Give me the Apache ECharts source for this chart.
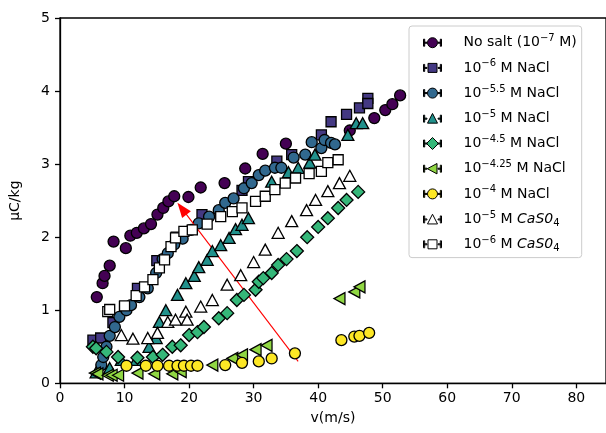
<!DOCTYPE html>
<html><head><meta charset="utf-8">
<script src="https://cdn.jsdelivr.net/npm/echarts@6/dist/echarts.min.js"></script>
<style>html,body{margin:0;padding:0;background:#fff}#c{width:606px;height:433px}</style>
</head><body><div id="c"></div>
<script>
// ---- data (v in m/s, charge in µC/kg) ----
const noSalt = [[5.7,1.18],[6.6,1.37],[6.9,1.47],[7.7,1.61],[8.3,1.94],[10.2,1.85],[10.9,2.02],[11.9,2.06],[13.0,2.12],[14.1,2.18],[15.1,2.31],[16.0,2.40],[16.8,2.49],[17.7,2.56],[19.9,2.55],[21.8,2.68],[25.5,2.74],[28.7,2.94],[31.4,3.14],[35.0,3.28],[44.9,3.46],[48.7,3.63],[50.4,3.74],[51.5,3.82],[52.7,3.94]];
const nacl6 = [[5.1,0.59],[6.3,0.62],[8.2,0.83],[10.0,1.05],[12.0,1.30],[15.0,1.68],[18.0,2.00],[22.0,2.31],[28.2,2.64],[29.2,2.76],[33.6,3.04],[35.9,3.13],[40.5,3.40],[42.0,3.58],[44.4,3.68],[46.4,3.77],[47.7,3.90],[47.7,3.83]];
const nacl55 = [[6.4,0.25],[6.7,0.36],[7.2,0.50],[7.7,0.65],[8.5,0.77],[9.2,0.91],[10.3,1.00],[11.0,1.07],[12.3,1.18],[13.6,1.30],[14.9,1.51],[15.9,1.70],[16.7,1.78],[17.7,1.90],[19.0,1.98],[20.3,2.10],[21.5,2.19],[23.1,2.28],[24.6,2.37],[25.6,2.47],[26.9,2.53],[28.5,2.67],[29.7,2.74],[30.8,2.85],[31.8,2.91],[33.3,2.95],[34.3,2.95],[36.2,3.09],[38.0,3.13],[39.0,3.30],[40.5,3.22],[41.0,3.33],[42.0,3.29],[42.6,3.27]];
const nacl5 = [[5.6,0.15],[7.7,0.21],[9.5,0.32],[11.8,0.32],[13.8,0.50],[14.9,0.62],[15.4,0.84],[16.4,1.00],[18.2,1.21],[19.5,1.37],[20.8,1.47],[21.5,1.59],[22.8,1.69],[23.6,1.81],[24.9,1.89],[26.2,1.99],[27.2,2.11],[28.2,2.17],[29.2,2.26],[32.8,2.76],[35.4,2.89],[36.9,2.95],[38.7,3.02],[39.5,3.13],[44.6,3.40],[45.9,3.56],[46.9,3.56]];
const nacl45 = [[5.1,0.50],[5.6,0.48],[7.2,0.43],[9.0,0.36],[12.0,0.35],[14.4,0.36],[15.9,0.39],[17.4,0.50],[18.7,0.52],[20.0,0.66],[21.3,0.70],[22.3,0.77],[24.6,0.89],[25.9,0.96],[27.4,1.14],[28.5,1.21],[30.3,1.28],[30.8,1.39],[31.5,1.44],[32.8,1.51],[33.8,1.62],[35.1,1.70],[36.7,1.81],[38.3,2.00],[40.0,2.14],[41.5,2.26],[43.1,2.40],[44.4,2.51],[46.2,2.62]];
const nacl425 = [[5.4,0.14],[5.8,0.13],[7.4,0.11],[8.0,0.11],[9.0,0.11],[12.0,0.14],[14.6,0.13],[17.4,0.13],[18.7,0.16],[23.6,0.25],[26.7,0.34],[28.2,0.39],[30.3,0.46],[32.0,0.52],[43.3,1.16],[45.6,1.25],[46.4,1.32]];
const nacl4 = [[10.3,0.24],[13.3,0.24],[15.1,0.24],[16.9,0.24],[18.2,0.24],[19.2,0.24],[20.3,0.24],[21.3,0.24],[25.6,0.25],[28.2,0.28],[30.8,0.30],[32.8,0.34],[36.4,0.41],[43.6,0.59],[45.6,0.64],[46.4,0.65],[47.9,0.69]];
const caso5 = [[9.5,0.66],[11.3,0.61],[13.6,0.62],[15.1,0.69],[16.7,0.84],[17.9,0.87],[19.5,0.98],[19.7,0.87],[21.8,1.05],[23.6,1.14],[25.9,1.35],[28.0,1.48],[30.0,1.66],[31.8,1.83],[33.8,2.06],[35.9,2.22],[38.2,2.37],[39.6,2.51],[41.5,2.63],[43.3,2.74],[44.9,2.84]];
const caso6 = [[7.4,0.98],[7.7,1.01],[10.0,1.06],[11.8,1.20],[13.1,1.32],[14.4,1.42],[15.4,1.58],[16.2,1.69],[17.2,1.87],[17.9,1.99],[19.2,2.08],[20.5,2.10],[22.8,2.18],[24.9,2.28],[26.7,2.35],[28.2,2.40],[30.3,2.49],[31.8,2.56],[33.3,2.65],[34.9,2.74],[36.5,2.81],[38.6,2.87],[40.5,2.90],[41.5,3.02],[43.1,3.06]];
const arrowFrom = [36.9, 0.30];
const arrowTo = [18.9, 2.39];
const xTicks = [0,10,20,30,40,50,60,70,80];
const yTicks = [0,1,2,3,4,5];
const seriesNames = ['No salt (10−7 M)','10−6 M NaCl','10−5.5 M NaCl','10−5 M NaCl','10−4.5 M NaCl','10−4.25 M NaCl','10−4 M NaCl','10−5 M CaS04','10−6 M CaS04'];
const legendRich = {
 'No salt (10−7 M)':'No salt (10{sup|−7} M)',
 '10−6 M NaCl':'10{sup|−6} M NaCl',
 '10−5.5 M NaCl':'10{sup|−5.5} M NaCl',
 '10−5 M NaCl':'10{sup|−5} M NaCl',
 '10−4.5 M NaCl':'10{sup|−4.5} M NaCl',
 '10−4.25 M NaCl':'10{sup|−4.25} M NaCl',
 '10−4 M NaCl':'10{sup|−4} M NaCl',
 '10−5 M CaS04':'10{sup|−5} M {it|CaS0}{sub|4}',
 '10−6 M CaS04':'10{sup|−6} M {it|CaS0}{sub|4}'
};

// ---- styles ----
const colors = ['#440154','#443983','#31688e','#21918c','#35b779','#90d743','#fde725','#ffffff','#ffffff'];
const shapes = ['circle','square','circle','tri','diamond','left','circle','tri','square'];
const symbolMap = {
  circle:'circle',
  square:'rect',
  tri:'path://M0,-1L0.866,0.5L-0.866,0.5Z',
  diamond:'path://M0,-1L1,0L0,1L-1,0Z',
  left:'path://M-1,0L0.5,-0.866L0.5,0.866Z'
};
const sizeMap = {circle:11, square:10, tri:[12,11], diamond:[13,13], left:[11,12]};
function markerPath(shape){
  const caps = 'M0,2.5L1.2,2.5L1.2,9.5L0,9.5Z M16.8,2.5L18,2.5L18,9.5L16.8,9.5Z M0,5.5L3.5,5.5L3.5,6.5L0,6.5Z M14.5,5.5L18,5.5L18,6.5L14.5,6.5Z ';
  let m;
  if(shape==='circle') m='M9,1A5,5 0 1 1 8.99,1Z';
  else if(shape==='square') m='M4.5,1.5L13.5,1.5L13.5,10.5L4.5,10.5Z';
  else if(shape==='tri') m='M9,0.8L14,10.5L4,10.5Z';
  else if(shape==='diamond') m='M9,0L15,6L9,12L3,6Z';
  else m='M3.8,6L13.5,0.8L13.5,11.2Z';
  return 'path://'+caps+m;
}
const datasets=[noSalt,nacl6,nacl55,nacl5,nacl45,nacl425,nacl4,caso5,caso6];
const series = datasets.map((d,i)=>({
  name: seriesNames[i], type:'scatter', data:d,
  symbol: symbolMap[shapes[i]], symbolSize: sizeMap[shapes[i]],
  itemStyle:{color:colors[i], borderColor:'#000', borderWidth:1.3, opacity:1},
  emphasis:{disabled:true}, z:2+i
}));
series.push({
  type:'line', data:[], z:20, silent:true,
  markLine:{silent:true, animation:false, label:{show:false},
    symbol:['none','triangle'], symbolSize:[11,15],
    lineStyle:{color:'#ff0000', width:1.1, type:'solid'},
    data:[[{coord:arrowFrom, symbol:'none'},{coord:arrowTo, symbol:'triangle', symbolSize:[11,15]}]]
  }
});

const chart = echarts.init(document.getElementById('c'), null, {renderer:'canvas'});
const font='DejaVu Sans';
chart.setOption({
  animation:false,
  backgroundColor:'#fff',
  grid:{left:60, top:18, right:-4, bottom:49.7, show:true, borderColor:'#000', borderWidth:1.3, backgroundColor:'transparent'},
  xAxis:{type:'value', min:0, max:84.6, interval:10, name:'v(m/s)', nameLocation:'middle', nameGap:28,
    nameTextStyle:{fontFamily:font, fontSize:14, color:'#000'},
    axisLine:{show:true, lineStyle:{color:'#000', width:1.3}}, axisTick:{show:true, length:5, lineStyle:{color:'#000', width:1.3}},
    axisLabel:{fontFamily:font, fontSize:14, color:'#000', margin:8, showMaxLabel:false,
      formatter:v=> xTicks.includes(v)? String(v):''},
    splitLine:{show:false}},
  yAxis:{type:'value', min:0, max:5, interval:1, name:'μC/kg', nameLocation:'middle', nameGap:38,
    nameTextStyle:{fontFamily:font, fontSize:14, color:'#000'},
    axisLine:{show:true, lineStyle:{color:'#000', width:1.3}}, axisTick:{show:true, length:5, lineStyle:{color:'#000', width:1.3}},
    axisLabel:{fontFamily:font, fontSize:14, color:'#000', margin:10, formatter:v=> yTicks.includes(v)? String(v):''},
    splitLine:{show:false}},
  legend:{orient:'vertical', left:409, top:26, padding:[7.7,5,4.3,14],
    itemWidth:18, itemHeight:12, itemGap:7.2,
    backgroundColor:'#fff', borderColor:'#cccccc', borderWidth:1, borderRadius:3,
    data: seriesNames.map((n,i)=>({name:n, icon:markerPath(shapes[i])})),
    formatter: n=>legendRich[n],
    textStyle:{fontFamily:font, fontSize:14, color:'#000', lineHeight:18, padding:[0,0,0,17],
      rich:{
        sup:{fontFamily:font, fontSize:10, lineHeight:10, verticalAlign:'top', color:'#000'},
        sub:{fontFamily:font, fontSize:10, lineHeight:10, verticalAlign:'bottom', color:'#000'},
        it:{fontFamily:font, fontSize:14, fontStyle:'italic', lineHeight:18, color:'#000'}
      }},
    itemStyle:{borderColor:'#000', borderWidth:1}
  },
  series: series
});
</script></body></html>
